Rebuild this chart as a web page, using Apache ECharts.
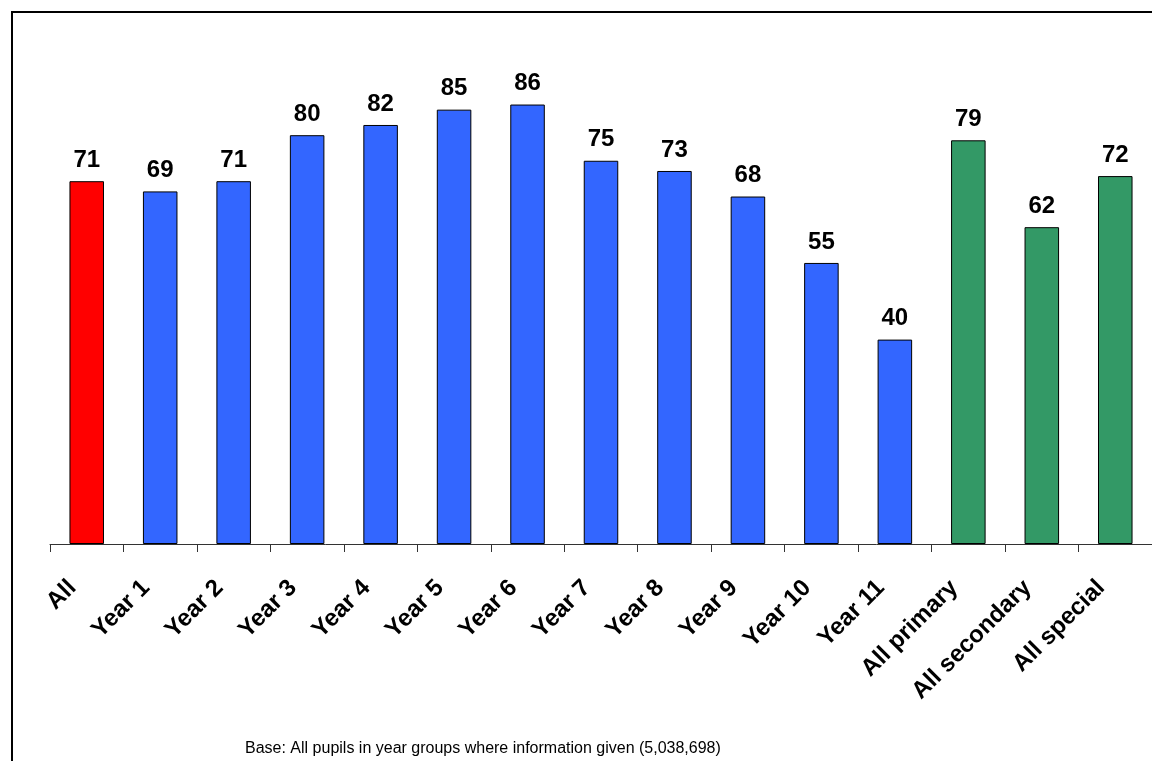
<!DOCTYPE html>
<html>
<head>
<meta charset="utf-8">
<script src="https://cdn.jsdelivr.net/npm/echarts@6/dist/echarts.min.js"></script>
<style>
  html, body { margin: 0; padding: 0; background: #fff; }
  #chart { width: 1152px; height: 761px; }
</style>
</head>
<body>
<div id="chart"></div>
<script>
  var categories = ['All', 'Year 1', 'Year 2', 'Year 3', 'Year 4', 'Year 5', 'Year 6', 'Year 7',
    'Year 8', 'Year 9', 'Year 10', 'Year 11', 'All primary', 'All secondary', 'All special'];
  var values = [71, 69, 71, 80, 82, 85, 86, 75, 73, 68, 55, 40, 79, 62, 72];
  var footnote = 'Base: All pupils in year groups where information given (5,038,698)';

  var chart = echarts.init(document.getElementById('chart'));

  // first bar is the overall figure, last three are school type totals
  function barColor(params) {
    if (params.dataIndex === 0) return '#ff0000';
    if (params.dataIndex >= 12) return '#339966';
    return '#3366ff';
  }

  var option = {
    animation: false,
    backgroundColor: '#fff',
    textStyle: { fontFamily: 'Liberation Sans, Arial, sans-serif' },
    graphic: [{
      type: 'rect',
      shape: { x: 12, y: 12, width: 1200, height: 800 },
      style: { fill: 'none', stroke: '#000', lineWidth: 2 }
    }, {
      type: 'text',
      left: 245,
      top: 741,
      style: {
        text: footnote,
        font: '16px "Liberation Sans", Arial, sans-serif',
        fill: '#000'
      }
    }],
    grid: { left: 50, top: 33, width: 1106, height: 511, containLabel: false },
    xAxis: {
      type: 'category',
      data: categories,
      axisLine: { lineStyle: { color: '#333', width: 1 } },
      axisTick: { show: true, alignWithLabel: false, length: 8, lineStyle: { color: '#333' } },
      axisLabel: {
        rotate: 45,
        interval: 0,
        margin: 26,
        padding: [0, 20, 0, 0],
        color: '#000',
        fontWeight: 'bold',
        fontSize: 24,
        fontFamily: 'Liberation Sans, Arial, sans-serif'
      }
    },
    yAxis: {
      type: 'value',
      min: 0,
      max: 100,
      show: false,
      splitLine: { show: false }
    },
    series: [{
      type: 'bar',
      data: values,
      barWidth: '47%',
      itemStyle: { color: barColor, borderColor: '#000', borderWidth: 1 },
      label: {
        show: true,
        position: 'top',
        distance: 9,
        color: '#000',
        fontWeight: 'bold',
        fontSize: 24,
        fontFamily: 'Liberation Sans, Arial, sans-serif'
      }
    }]
  };

  chart.setOption(option);
</script>
</body>
</html>
